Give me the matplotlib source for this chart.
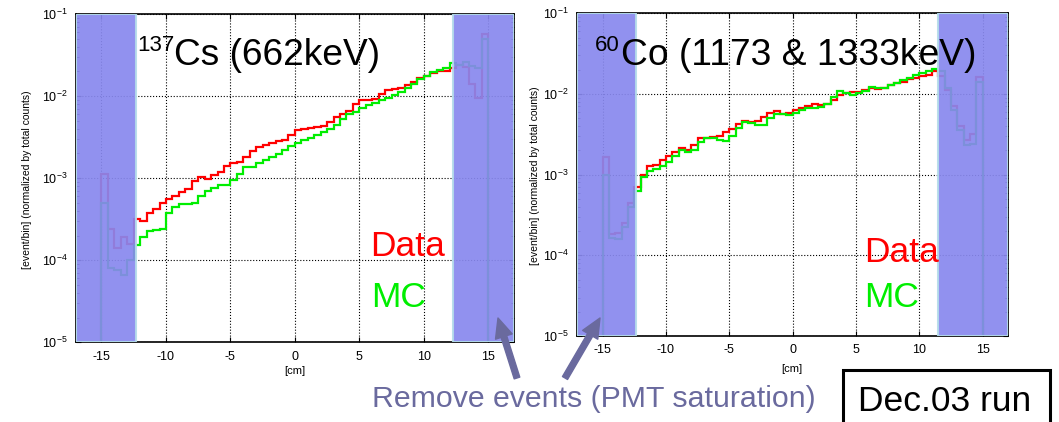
import numpy as np
import matplotlib.pyplot as plt
from matplotlib.patches import Rectangle, FancyArrowPatch

plt.rcParams['font.family'] = ['Liberation Sans', 'DejaVu Sans']
plt.rcParams['mathtext.fontset'] = 'custom'
plt.rcParams['mathtext.rm'] = 'Liberation Sans'
plt.rcParams['mathtext.it'] = 'Liberation Sans:italic'
plt.rcParams['axes.unicode_minus'] = False

W, H = 1059, 422

# histogram binning [cm]
bin_edges = np.arange(-15, 15.01, 0.5)
x_ticks = [-15, -10, -5, 0, 5, 10, 15]

# log10([event/bin]), one value per 0.5 cm bin
cs_data_log = [-2.95, -3.62, -3.85, -3.72, -3.80, -3.50, -3.52, -3.42, -3.37, -3.30,
               -3.26, -3.22, -3.17, -3.13, -3.04, -2.99, -3.01, -2.96, -2.92, -2.85,
               -2.81, -2.80, -2.74, -2.67, -2.62, -2.60, -2.57, -2.55, -2.54, -2.47,
               -2.41, -2.40, -2.39, -2.38, -2.37, -2.31, -2.26, -2.22, -2.18, -2.10,
               -2.05, -2.05, -2.03, -1.97, -1.92, -1.91, -1.90, -1.87, -1.83, -1.78,
               -1.75, -1.72, -1.70, -1.69, -1.66, -1.62, -1.64, -1.85, -2.02, -1.24]
cs_mc_log = [-3.30, -4.10, -4.12, -4.18, -4.00, -3.82, -3.72, -3.65, -3.63, -3.62,
             -3.42, -3.35, -3.31, -3.32, -3.30, -3.22, -3.16, -3.12, -3.08, -3.08,
             -3.02, -2.95, -2.87, -2.86, -2.81, -2.78, -2.74, -2.70, -2.66, -2.61,
             -2.57, -2.54, -2.51, -2.48, -2.44, -2.40, -2.35, -2.28, -2.22, -2.19,
             -2.15, -2.11, -2.08, -2.05, -2.02, -1.99, -1.95, -1.90, -1.85, -1.79,
             -1.75, -1.71, -1.68, -1.66, -1.60, -1.62, -1.58, -1.63, -1.66, -1.30]
co_data_log = [-2.78, -3.73, -3.72, -3.60, -3.35, -3.15, -3.00, -2.89, -2.88, -2.82,
               -2.77, -2.72, -2.67, -2.69, -2.63, -2.55, -2.54, -2.53, -2.52, -2.47,
               -2.44, -2.37, -2.34, -2.35, -2.33, -2.28, -2.24, -2.21, -2.25, -2.24,
               -2.20, -2.17, -2.15, -2.13, -2.14, -2.12, -2.07, -2.01, -1.99, -1.97,
               -1.97, -1.95, -1.93, -1.94, -1.92, -1.89, -1.87, -1.85, -1.82, -1.80,
               -1.78, -1.76, -1.72, -1.78, -1.95, -2.15, -2.40, -2.57, -2.50, -1.79]
co_mc_log = [-3.00, -3.79, -3.80, -3.65, -3.40, -3.20, -3.03, -2.95, -2.93, -2.89,
             -2.84, -2.77, -2.70, -2.72, -2.70, -2.60, -2.54, -2.54, -2.57, -2.58,
             -2.52, -2.42, -2.35, -2.36, -2.39, -2.38, -2.30, -2.25, -2.25, -2.26,
             -2.24, -2.20, -2.18, -2.17, -2.16, -2.13, -2.04, -1.96, -1.99, -2.01,
             -1.99, -1.96, -1.91, -1.93, -1.93, -1.89, -1.86, -1.83, -1.80, -1.76,
             -1.74, -1.72, -1.69, -1.72, -1.93, -2.20, -2.45, -2.63, -2.62, -1.85]

# removed regions (PMT saturation) [cm]
cs_cut = (-12.3, 12.3)
co_cut = (-12.4, 11.5)

RED = '#ff0000'
GREEN = '#00ee00'
SHADE = '#8888ee'
SHADE_EDGE = '#b4dcea'
NOTE = '#6a6a9e'


def px(x):
    return x / W


def py(y):
    return 1 - y / H


def draw_panel(ax, data_log, mc_log, cut):
    ax.set_yscale('log')
    ax.stairs(10 ** np.array(data_log), bin_edges, baseline=1e-7,
              color=RED, lw=1.6, zorder=2)
    ax.stairs(10 ** np.array(mc_log), bin_edges, baseline=1e-7,
              color=GREEN, lw=1.6, zorder=2.1)
    for lo, hi in [(-17, cut[0]), (cut[1], 17)]:
        ax.axvspan(lo, hi, facecolor=SHADE, edgecolor=SHADE_EDGE, lw=1.5,
                   alpha=0.92, zorder=3)
    ax.set_xlim(-17, 17)
    ax.set_ylim(1e-5, 1e-1)
    ax.set_xticks(x_ticks)
    ax.set_xticklabels([str(t) for t in x_ticks])
    ax.grid(True, which='major', ls=':', color='black', lw=0.8)
    ax.tick_params(which='both', direction='in', top=True, right=True,
                   labelsize=9, pad=6)
    ax.tick_params(which='minor', length=2)
    for s in ax.spines.values():
        s.set_linewidth(1.2)


fig = plt.figure(figsize=(W / 100, H / 100), dpi=100)

ax_l = fig.add_axes([px(75.7), py(342.3), (514.1 - 75.7) / W, (342.3 - 14) / H])
ax_r = fig.add_axes([px(577.3), py(336), (1008 - 577.3) / W, (336 - 13.3) / H])

draw_panel(ax_l, cs_data_log, cs_mc_log, cs_cut)
draw_panel(ax_r, co_data_log, co_mc_log, co_cut)

ylab = '[event/bin] (normalized by total counts)'
fig.text(px(27), py(180), ylab, rotation=90, ha='center', va='center', fontsize=7.5)
fig.text(px(535), py(176), ylab, rotation=90, ha='center', va='center', fontsize=7.5)
fig.text(px(295), py(371), '[cm]', ha='center', va='center', fontsize=8)
fig.text(px(792), py(369), '[cm]', ha='center', va='center', fontsize=8)

# source labels
fig.text(px(137), py(35), '137', ha='left', va='top', fontsize=16)
fig.text(px(174), py(65), 'Cs (662keV)', ha='left', va='baseline', fontsize=26.7)
fig.text(px(595), py(35), '60', ha='left', va='top', fontsize=16)
fig.text(px(621), py(65), 'Co (1173 & 1333keV)', ha='left', va='baseline', fontsize=26.8)

# Data / MC labels
fig.text(px(370), py(256), 'Data', color=RED, ha='left', va='baseline', fontsize=25.5)
fig.text(px(371), py(307), 'MC', color=GREEN, ha='left', va='baseline', fontsize=25.5)
fig.text(px(864), py(262), 'Data', color=RED, ha='left', va='baseline', fontsize=25.5)
fig.text(px(864), py(307), 'MC', color=GREEN, ha='left', va='baseline', fontsize=25.5)

# note with arrows
fig.text(px(372), py(407), 'Remove events (PMT saturation)', color=NOTE,
         ha='left', va='baseline', fontsize=21.8)
for tail, tip in [((517, 378), (498, 318)), ((565, 378), (600, 318))]:
    arr = FancyArrowPatch((px(tail[0]), py(tail[1])), (px(tip[0]), py(tip[1])),
                          transform=fig.transFigure,
                          arrowstyle='simple,head_width=0.9,head_length=1.0,tail_width=0.3',
                          mutation_scale=14, color=NOTE, shrinkA=0, shrinkB=0)
    fig.add_artist(arr)

# run box
fig.add_artist(Rectangle((px(843), -0.1), (1050 - 843) / W, py(370) + 0.1,
                         transform=fig.transFigure, fill=False,
                         edgecolor='black', lw=2.2))
fig.text(px(858), py(411), 'Dec.03 run', ha='left', va='baseline', fontsize=25.5)

fig.savefig('out.png', dpi=100)
